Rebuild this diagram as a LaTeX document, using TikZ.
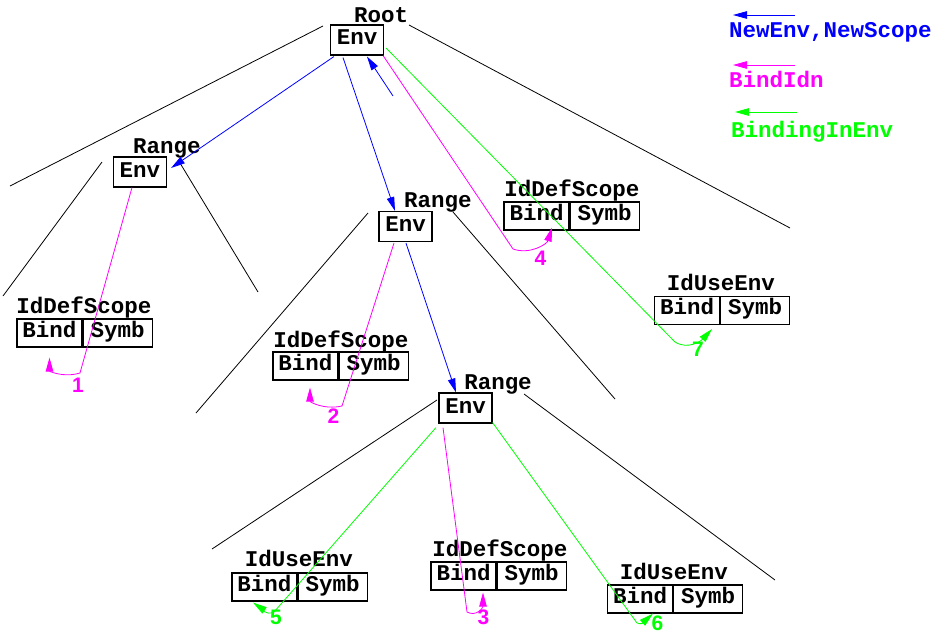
\documentclass[tikz,border=0pt]{standalone}
\usepackage{fontspec}
\setmonofont{Liberation Mono}
\setsansfont{Liberation Sans}
\usetikzlibrary{arrows.meta,calc}
\definecolor{scopeblue}{rgb}{0,0,1}
\definecolor{bindmag}{rgb}{1,0,1}
\definecolor{envgreen}{rgb}{0,1,0}
\begin{document}
\begin{tikzpicture}[x=1pt,y=-1pt,
  mono/.style={font=\ttfamily\bfseries\fontsize{22.5}{22.5}\selectfont},
  lbl/.style={mono, anchor=base, inner sep=0pt},
  envbox/.style={mono, draw, line width=1.1pt, minimum width=53pt, minimum height=30pt,
    inner sep=0pt, text height=14pt, text depth=4pt},
  cell/.style={mono, draw, line width=1.1pt, minimum height=28pt, inner sep=0pt,
    text height=13pt, text depth=5pt},
  bindcell/.style={cell, minimum width=65pt},
  symbcell/.style={cell, minimum width=69pt, anchor=west},
  tree/.style={line width=0.8pt},
  link/.style={line width=0.8pt, -{Triangle[length=14pt,width=7.5pt]}},
  newenv/.style={link, scopeblue},
  bindidn/.style={link, bindmag},
  bindenv/.style={link, envgreen},
  num/.style={font=\sffamily\bfseries\fontsize{21}{21}\selectfont, inner sep=0pt}
]
\useasboundingbox (0,0) rectangle (937,634);

% ---- environment boxes of the scope tree ----
\node[envbox] (root) at (357,40) {Env};
\node[lbl] (rootlbl) at (381,23) {Root};
\node[envbox] (r1) at (140,172) {Env};
\node[lbl] (r1lbl) at (167,153) {Range};
\node[envbox] (r2) at (405.5,226.5) {Env};
\node[lbl] (r2lbl) at (438,207) {Range};
\node[envbox] (r3) at (465.5,408) {Env};
\node[lbl] (r3lbl) at (498,389) {Range};

% ---- Bind/Symb records ----
\node[bindcell] (b1) at (49.5,333) {Bind};
\node[symbcell] (s1) at (b1.east) {Symb};
\node[lbl] (l1) at (84,313) {IdDefScope};

\node[bindcell] (b2) at (305.5,366) {Bind};
\node[symbcell] (s2) at (b2.east) {Symb};
\node[lbl] (l2) at (341,347) {IdDefScope};

\node[bindcell] (b4) at (536.5,216) {Bind};
\node[symbcell] (s4) at (b4.east) {Symb};
\node[lbl] (l4) at (572,196) {IdDefScope};

\node[bindcell] (b7) at (687,310.5) {Bind};
\node[symbcell] (s7) at (b7.east) {Symb};
\node[lbl] (l7) at (721,290) {IdUseEnv};

\node[bindcell] (b5) at (264.5,587) {Bind};
\node[symbcell] (s5) at (b5.east) {Symb};
\node[lbl] (l5) at (299,566) {IdUseEnv};

\node[bindcell] (b3) at (463.5,576) {Bind};
\node[symbcell] (s3) at (b3.east) {Symb};
\node[lbl] (l3) at (500,556) {IdDefScope};

\node[bindcell] (b6) at (640,599) {Bind};
\node[symbcell] (s6) at (b6.east) {Symb};
\node[lbl] (l6) at (674,579) {IdUseEnv};

% ---- tree branches ----
\draw[tree] (323,26) -- (10,186);
\draw[tree] (409,25) -- (790,228);
\draw[tree] (102,162) -- (3,296);
\draw[tree] (180,163) -- (258,292);
\draw[tree] (368,213) -- (196,413);
\draw[tree] (453,212) -- (615,399);
\draw[tree] (437,400) -- (212,549);
\draw[tree] (524,394) -- (775,580);

% ---- NewEnv / NewScope links ----
\draw[newenv] ($(root.south west)+(4,1)$) -- ($(r1.east)+(4,-4)$);
\draw[newenv] ($(root.south)+(-14,2)$) -- ($(r2.north)+(-10.5,0)$);
\coordinate (upfoot) at (393,96);
\draw[newenv] (upfoot) -- ($(root.south)+(10,1)$);
\draw[newenv] ($(r2.south)+(0.5,1)$) -- ($(r3.north)+(-9.5,0)$);

% ---- BindIdn links ----
\draw[bindidn] ($(r1.south)+(-8,0)$) -- (80,373)
  .. controls (63,378) and (49.5,371) .. ($(b1.south)+(0,10)$);
\draw[bindidn] ($(root.south east)+(-1,0)$) -- (513,249)
  .. controls (530,255) and (547,244) .. ($(b4.south)+(15.5,-3)$);
\draw[bindidn] ($(r2.south)+(-11.5,1)$) -- (342,406)
  .. controls (324,410) and (310,402) .. ($(b2.south)+(4.5,7)$);
\draw[bindidn] ($(r3.south)+(-22.5,4)$) -- (467,612)
  .. controls (476,617) and (483,608) .. ($(b3.south)+(19.5,2)$);

% ---- BindingInEnv links ----
\draw[bindenv] ($(root.east)+(2,8)$) -- (675,342)
  .. controls (688,350) and (701,341) .. ($(b7.south)+(25,4)$);
\draw[bindenv] ($(r3.south)+(-29.5,4)$) -- (274,612)
  .. controls (265,616) and (261,608) .. ($(b5.south)+(-11.5,1)$);
\draw[bindenv] ($(r3.south east)+(0,-1)$) -- (637,623)
  .. controls (645,626) and (648,618) .. ($(b6.south)+(13,0)$);

% ---- step numbers ----
\node[num, text=bindmag] (n1) at (78,385) {1};
\node[num, text=bindmag] (n2) at (333.5,416.5) {2};
\node[num, text=bindmag] (n3) at (483.5,617.5) {3};
\node[num, text=bindmag] (n4) at (540.5,258.5) {4};
\node[num, text=envgreen] (n5) at (276,617) {5};
\node[num, text=envgreen] (n6) at (657.5,623) {6};
\node[num, text=envgreen] (n7) at (698,349) {7};

% ---- legend ----
\coordinate (k1a) at (795,15);  \coordinate (k1b) at (733,15);
\coordinate (k2a) at (795,65);  \coordinate (k2b) at (733,65);
\coordinate (k3a) at (797,112); \coordinate (k3b) at (735,112);
\draw[newenv] (k1a) -- (k1b);
\draw[bindidn] (k2a) -- (k2b);
\draw[bindenv] (k3a) -- (k3b);
\node[lbl, anchor=base west, text=scopeblue] (k1) at (729,38) {NewEnv,NewScope};
\node[lbl, anchor=base west, text=bindmag] (k2) at (729,88) {BindIdn};
\node[lbl, anchor=base west, text=envgreen] (k3) at (731,137) {BindingInEnv};
\end{tikzpicture}
\end{document}
